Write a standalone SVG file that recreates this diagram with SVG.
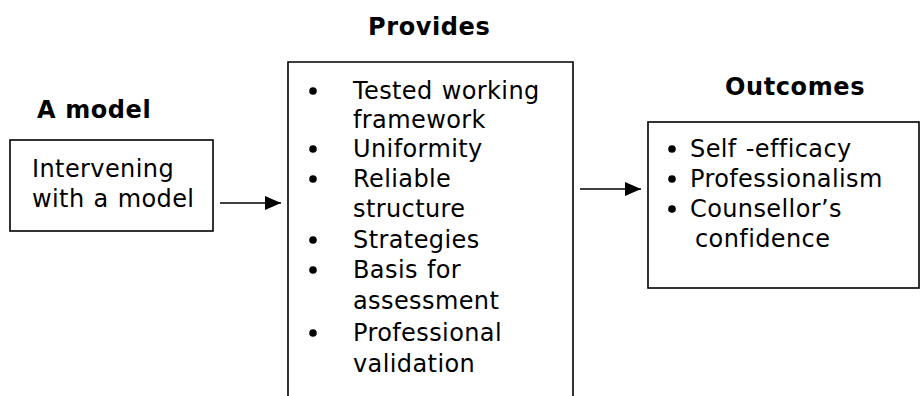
<svg xmlns="http://www.w3.org/2000/svg" width="921" height="396" viewBox="0 0 921 396">
  <style>
    .box { fill: #ffffff; stroke: #000000; stroke-width: 1.6; }
    .head { font-family: "DejaVu Sans", Verdana, sans-serif; font-size: 24px; font-weight: bold; fill: #000000; letter-spacing: 0.6px; }
    .txt { font-family: "DejaVu Sans", Verdana, sans-serif; font-size: 24px; fill: #000000; letter-spacing: 0.4px; word-spacing: 1px; }
    .bul { fill: #000000; }
    .conn { stroke: #000000; stroke-width: 1.6; fill: none; }
  </style>
  <defs>
    <marker id="arrow" viewBox="0 0 16 14" refX="16" refY="7" markerWidth="16" markerHeight="14" markerUnits="userSpaceOnUse" orient="auto">
      <path d="M0,0 L16,7 L0,14 Z" fill="#000000"/>
    </marker>
  </defs>
  <rect width="921" height="396" fill="#ffffff"/>

  <g id="model">
    <text class="head" x="37" y="118">A model</text>
    <rect class="box" x="10" y="140" width="203" height="91"/>
    <text class="txt" x="32" y="177">Intervening</text>
    <text class="txt" x="32" y="207">with a model</text>
  </g>

  <g id="provides">
    <text class="head" x="368" y="35">Provides</text>
    <path class="box" d="M288,400 L288,62 L573,62 L573,400"/>
    <g class="bul">
      <circle cx="313" cy="91" r="3.8"/>
      <circle cx="313" cy="149" r="3.8"/>
      <circle cx="313" cy="179" r="3.8"/>
      <circle cx="313" cy="240" r="3.8"/>
      <circle cx="313" cy="270" r="3.8"/>
      <circle cx="313" cy="333" r="3.8"/>
    </g>
    <text class="txt" x="353" y="99">Tested working</text>
    <text class="txt" x="353" y="128">framework</text>
    <text class="txt" x="353" y="157">Uniformity</text>
    <text class="txt" x="353" y="187">Reliable</text>
    <text class="txt" x="353" y="217">structure</text>
    <text class="txt" x="353" y="248">Strategies</text>
    <text class="txt" x="353" y="278">Basis for</text>
    <text class="txt" x="353" y="309">assessment</text>
    <text class="txt" x="353" y="341">Professional</text>
    <text class="txt" x="353" y="372">validation</text>
  </g>

  <g id="outcomes">
    <text class="head" x="725" y="95">Outcomes</text>
    <rect class="box" x="648" y="122" width="271" height="166"/>
    <g class="bul">
      <circle cx="672" cy="149" r="3.8"/>
      <circle cx="672" cy="179" r="3.8"/>
      <circle cx="672" cy="209" r="3.8"/>
    </g>
    <text class="txt" x="690" y="157">Self -efficacy</text>
    <text class="txt" x="690" y="187">Professionalism</text>
    <text class="txt" x="690" y="217">Counsellor’s</text>
    <text class="txt" x="695" y="247">confidence</text>
  </g>

  <g id="connectors">
    <line class="conn" x1="220" y1="203" x2="281" y2="203" marker-end="url(#arrow)"/>
    <line class="conn" x1="580" y1="189" x2="641" y2="189" marker-end="url(#arrow)"/>
  </g>
</svg>
